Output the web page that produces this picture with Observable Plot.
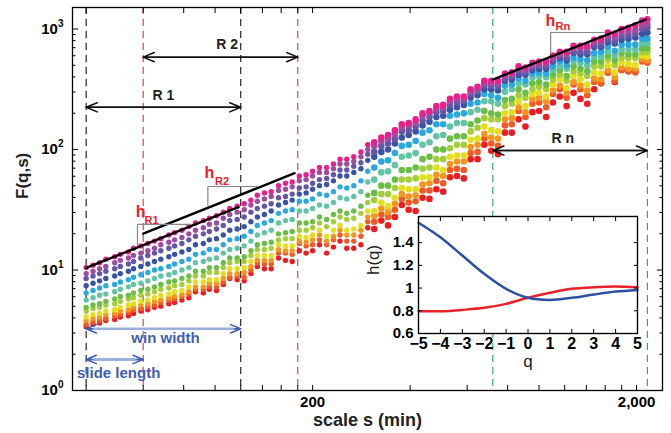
<!DOCTYPE html>
<html><head><meta charset="utf-8">
<script src="https://cdn.jsdelivr.net/npm/d3@7"></script>
<script src="https://cdn.jsdelivr.net/npm/@observablehq/plot@0.6"></script>
<style>
html,body{margin:0;padding:0;background:#fff;}
#wrap{position:relative;width:671px;height:433px;overflow:hidden;background:#fff;}
#main{position:absolute;left:0;top:0;}
#inset{position:absolute;left:360px;top:205px;}
svg text{font-family:"Liberation Sans",Arial,Helvetica,sans-serif;}
</style></head><body>
<div id="wrap"><div id="main"></div><div id="inset"></div></div>
<script>
// ---- scales s (min) at which F(q,s) was read ----
const scales = [40,42,44,46,49,51,54,56,59,62,65,68,72,75,79,83,87,92,96,101,106,111,117,123,129,135,142,149,157,165,173,182,191,200,210,221,232,243,255,268,282,296,310,326,342,359,377,396,416,437,459,482,506,531,558,586,615,646,678,712,747,785,824,865,908,954,1001,1052,1104,1159,1217,1278,1342,1409,1480,1554,1631,1713,1798,1888,1983,2082,2160];

// ---- log10 F(q,s) read for each curve (top: magenta ... bottom: red) ----
const logF_magenta = [1.02,1.04,1.06,1.09,1.11,1.13,1.15,1.18,1.20,1.22,1.24,1.26,1.29,1.31,1.33,1.36,1.39,1.41,1.43,1.45,1.48,1.51,1.53,1.55,1.58,1.62,1.64,1.65,1.70,1.72,1.73,1.78,1.79,1.82,1.85,1.85,1.88,1.92,1.92,1.94,1.98,2.04,2.06,2.10,2.12,2.16,2.21,2.22,2.25,2.30,2.32,2.36,2.37,2.42,2.44,2.44,2.50,2.52,2.57,2.57,2.57,2.63,2.64,2.69,2.68,2.72,2.73,2.73,2.78,2.81,2.81,2.86,2.86,2.86,2.91,2.92,2.97,2.96,3.00,3.01,3.03,3.07,3.08];
const logF_purple = [0.97,0.99,1.01,1.03,1.06,1.08,1.10,1.12,1.14,1.16,1.18,1.21,1.23,1.25,1.27,1.30,1.33,1.35,1.38,1.39,1.43,1.46,1.48,1.50,1.54,1.57,1.59,1.61,1.66,1.67,1.69,1.74,1.75,1.78,1.81,1.81,1.84,1.88,1.88,1.90,1.94,2.00,2.03,2.07,2.09,2.13,2.18,2.20,2.22,2.28,2.30,2.34,2.35,2.40,2.42,2.42,2.48,2.50,2.55,2.55,2.55,2.61,2.62,2.67,2.66,2.70,2.71,2.71,2.76,2.79,2.79,2.84,2.84,2.84,2.89,2.90,2.94,2.93,2.97,2.98,2.99,3.03,3.04];
const logF_violet = [0.93,0.95,0.97,0.99,1.01,1.03,1.05,1.07,1.10,1.12,1.14,1.16,1.18,1.20,1.22,1.25,1.28,1.30,1.32,1.34,1.37,1.41,1.42,1.44,1.48,1.51,1.53,1.55,1.60,1.61,1.63,1.68,1.69,1.72,1.75,1.76,1.79,1.83,1.83,1.86,1.89,1.96,1.98,2.03,2.05,2.09,2.15,2.16,2.19,2.24,2.27,2.31,2.32,2.37,2.39,2.40,2.46,2.48,2.53,2.53,2.53,2.59,2.60,2.65,2.64,2.68,2.69,2.69,2.74,2.77,2.76,2.81,2.81,2.81,2.87,2.87,2.91,2.90,2.94,2.95,2.96,3.00,3.01];
const logF_navy = [0.87,0.89,0.91,0.93,0.95,0.97,0.99,1.01,1.03,1.05,1.07,1.09,1.11,1.13,1.15,1.17,1.21,1.22,1.25,1.26,1.29,1.33,1.34,1.36,1.40,1.44,1.46,1.49,1.54,1.56,1.58,1.63,1.64,1.67,1.70,1.71,1.74,1.78,1.78,1.81,1.84,1.91,1.94,1.98,2.00,2.05,2.10,2.12,2.15,2.20,2.23,2.27,2.28,2.33,2.35,2.37,2.43,2.45,2.50,2.50,2.49,2.57,2.58,2.62,2.62,2.66,2.67,2.67,2.73,2.76,2.74,2.80,2.79,2.79,2.85,2.85,2.89,2.88,2.91,2.92,2.93,2.96,2.97];
const logF_lightBlue = [0.81,0.83,0.85,0.87,0.88,0.90,0.92,0.94,0.96,0.98,1.00,1.01,1.03,1.05,1.07,1.09,1.13,1.14,1.17,1.17,1.21,1.25,1.26,1.28,1.32,1.37,1.39,1.41,1.47,1.49,1.50,1.57,1.57,1.59,1.63,1.62,1.65,1.69,1.68,1.70,1.74,1.82,1.85,1.90,1.91,1.97,2.03,2.04,2.07,2.14,2.16,2.21,2.21,2.28,2.29,2.30,2.38,2.39,2.46,2.45,2.43,2.53,2.54,2.59,2.57,2.63,2.64,2.63,2.69,2.73,2.70,2.76,2.75,2.74,2.80,2.81,2.85,2.82,2.87,2.87,2.87,2.92,2.92];
const logF_teal = [0.75,0.77,0.79,0.80,0.82,0.84,0.86,0.88,0.89,0.91,0.93,0.95,0.96,0.98,1.00,1.02,1.06,1.07,1.09,1.10,1.14,1.17,1.18,1.20,1.24,1.29,1.31,1.33,1.39,1.41,1.42,1.49,1.49,1.51,1.54,1.53,1.56,1.60,1.59,1.61,1.65,1.73,1.75,1.81,1.82,1.87,1.94,1.95,1.97,2.04,2.06,2.11,2.12,2.19,2.22,2.22,2.31,2.33,2.40,2.40,2.38,2.48,2.50,2.55,2.54,2.60,2.61,2.60,2.66,2.69,2.67,2.73,2.72,2.70,2.77,2.77,2.81,2.78,2.83,2.83,2.83,2.88,2.88];
const logF_green = [0.69,0.71,0.72,0.74,0.76,0.78,0.79,0.81,0.83,0.84,0.86,0.88,0.90,0.91,0.93,0.95,0.99,0.99,1.02,1.02,1.06,1.10,1.10,1.11,1.16,1.21,1.22,1.23,1.30,1.31,1.32,1.39,1.39,1.40,1.44,1.42,1.46,1.49,1.47,1.49,1.53,1.62,1.64,1.70,1.70,1.75,1.83,1.83,1.85,1.92,1.94,2.00,2.00,2.09,2.11,2.11,2.21,2.24,2.32,2.30,2.29,2.41,2.42,2.50,2.47,2.55,2.56,2.54,2.62,2.66,2.61,2.69,2.67,2.65,2.73,2.73,2.78,2.74,2.80,2.79,2.79,2.84,2.84];
const logF_lime = [0.66,0.68,0.69,0.71,0.72,0.74,0.76,0.77,0.79,0.80,0.82,0.84,0.85,0.87,0.88,0.91,0.95,0.95,0.98,0.98,1.02,1.06,1.07,1.07,1.12,1.17,1.17,1.18,1.25,1.26,1.26,1.33,1.33,1.35,1.39,1.36,1.40,1.44,1.42,1.43,1.47,1.56,1.58,1.63,1.63,1.68,1.75,1.75,1.76,1.84,1.85,1.92,1.92,2.01,2.04,2.04,2.15,2.18,2.26,2.25,2.25,2.36,2.38,2.45,2.43,2.50,2.52,2.50,2.58,2.62,2.57,2.65,2.63,2.61,2.69,2.69,2.75,2.70,2.76,2.76,2.76,2.81,2.81];
const logF_yellow = [0.61,0.63,0.64,0.66,0.67,0.69,0.71,0.72,0.74,0.75,0.77,0.79,0.80,0.82,0.83,0.86,0.90,0.90,0.92,0.92,0.97,1.01,1.01,1.02,1.07,1.12,1.12,1.12,1.21,1.20,1.20,1.28,1.27,1.29,1.33,1.28,1.33,1.37,1.33,1.34,1.37,1.49,1.49,1.56,1.53,1.60,1.68,1.67,1.67,1.77,1.77,1.85,1.83,1.94,1.95,1.95,2.08,2.09,2.19,2.16,2.15,2.30,2.31,2.40,2.36,2.46,2.47,2.44,2.54,2.58,2.51,2.61,2.58,2.54,2.64,2.63,2.70,2.64,2.72,2.71,2.70,2.78,2.77];
const logF_orange = [0.58,0.60,0.61,0.63,0.64,0.66,0.67,0.69,0.71,0.72,0.74,0.75,0.77,0.78,0.80,0.82,0.86,0.86,0.89,0.89,0.93,0.97,0.97,0.98,1.03,1.08,1.08,1.08,1.17,1.16,1.16,1.24,1.23,1.25,1.29,1.24,1.28,1.33,1.29,1.29,1.33,1.44,1.45,1.51,1.48,1.55,1.63,1.61,1.62,1.71,1.72,1.79,1.78,1.88,1.90,1.90,2.02,2.04,2.13,2.10,2.09,2.25,2.26,2.35,2.31,2.42,2.43,2.40,2.49,2.53,2.47,2.56,2.53,2.49,2.59,2.58,2.66,2.60,2.68,2.67,2.67,2.75,2.74];
const logF_redOrange = [0.55,0.57,0.58,0.60,0.62,0.63,0.65,0.67,0.68,0.70,0.71,0.73,0.75,0.76,0.78,0.80,0.84,0.84,0.86,0.86,0.90,0.94,0.95,0.94,1.00,1.06,1.05,1.05,1.14,1.14,1.13,1.22,1.20,1.21,1.25,1.21,1.25,1.29,1.24,1.24,1.28,1.40,1.40,1.46,1.44,1.50,1.59,1.56,1.57,1.66,1.66,1.74,1.72,1.83,1.84,1.83,1.97,1.98,2.09,2.05,2.03,2.20,2.21,2.32,2.27,2.38,2.39,2.35,2.46,2.50,2.43,2.54,2.50,2.45,2.56,2.55,2.64,2.57,2.66,2.65,2.64,2.73,2.72];
const logF_red = [0.53,0.55,0.56,0.58,0.59,0.61,0.62,0.64,0.66,0.67,0.69,0.70,0.72,0.73,0.75,0.77,0.82,0.81,0.84,0.83,0.88,0.93,0.92,0.91,0.97,1.03,1.01,1.01,1.10,1.08,1.07,1.16,1.14,1.16,1.21,1.14,1.19,1.24,1.18,1.18,1.21,1.35,1.34,1.41,1.37,1.44,1.54,1.50,1.49,1.60,1.59,1.67,1.65,1.77,1.78,1.76,1.92,1.92,2.04,1.99,1.96,2.14,2.14,2.25,2.19,2.31,2.32,2.27,2.39,2.44,2.36,2.47,2.42,2.38,2.50,2.55,2.64,2.56,2.66,2.65,2.65,2.75,2.74];

const seriesNames  = ["red","redOrange","orange","yellow","lime","green","teal","lightBlue","navy","violet","purple","magenta"];
const seriesColors = ["#ec1c24","#f15a24","#f7941d","#e4df1a","#a3cd39","#6abd45","#62c4a2","#2aa9e0","#3a53a4","#6656a6","#9d4f9f","#e8208c"];
const seriesLogs   = [logF_red,logF_redOrange,logF_orange,logF_yellow,logF_lime,logF_green,logF_teal,logF_lightBlue,logF_navy,logF_violet,logF_purple,logF_magenta];
const denseFrom = 300; // beyond this scale the reference dots merge into bands

// ---- x/y ticks of the main panel ----
const xTicks = [40,60,80,100,120,140,160,180,200,400,600,800,1000,1200,1400,1600,1800,2000];
const xTickLabels = {200: "200", 2000: "2,000"};
const yMajor = [1,10,100,1000];
const yMinor = [2,3,4,5,6,7,8,9,20,30,40,50,60,70,80,90,200,300,400,500,600,700,800,900];

// ---- analysis windows (dashed verticals) ----
const windowLinesBlack = [40,120];
const windowLinesRed = [60,180];
const windowLinesGreen = [720,2160];

// ---- fitted slopes (black lines) ----
const fitR1 = [{s:40,F:10.4},{s:118,F:33.2}];
const fitR2 = [{s:60,F:20.0},{s:176,F:63.6}];
const fitRn = [{s:720,F:381},{s:2135,F:1199}];

// ---- slope brackets (grey) ----
const bracketR1 = [{s:57.6,F:16.0},{s:57.6,F:23.9},{s:84,F:23.9}];
const bracketR2 = [{s:95,F:34.3},{s:95,F:49.3},{s:136,F:49.3}];
const bracketRn = [{s:1086,F:626},{s:1086,F:935},{s:1582,F:935}];

// ---- h labels ----
const hLabels = [{s:56.9,F:27.3,sub:"R1",ss:60.6,sF:23.9},{s:92.8,F:57.5,sub:"R2",ss:100,sF:50.3},{s:1047,F:1069,sub:"Rn",ss:1125,sF:972}];

// ---- window arrows ----
const blackArrows = [{a:40,b:120,F:224,label:"R 1",ls:69.3,lF:281},{a:60,b:180,F:584,label:"R 2",ls:109,lF:743},{a:720,b:2160,F:98,label:"R n",ls:1183,lF:123}];
const blueArrows = [{a:40,b:120,F:3.25,label:"win width",ls:70.3,lF:2.70},{a:40,b:60,F:1.81,label:"slide length",ls:50.4,lF:1.38}];

// ---- inset h(q) ----
const qValues = [-5,-4,-3,-2,-1,0,1,2,3,4,5];
const hBlue = [1.575,1.447,1.286,1.125,0.993,0.914,0.896,0.914,0.943,0.969,0.984];
const hRed  = [0.796,0.796,0.808,0.826,0.861,0.914,0.958,0.993,1.007,1.013,1.007];
const hTicks = [0.6,0.8,1,1.2,1.4];

// build rows
const rows = [];
seriesLogs.forEach((arr, i) => arr.forEach((v, k) => {
  if (k < scales.length) rows.push({s: scales[k], F: Math.pow(10, v), series: seriesNames[i]});
}));
const sparseRows = rows.filter(d => d.s < denseFrom);
const denseRows = rows.filter(d => d.s >= denseFrom);

const supMap = {0:"⁰",1:"¹",2:"²",3:"³"};
const font = "Liberation Sans, Arial, Helvetica, sans-serif";

const main = Plot.plot({
  width: 671, height: 433,
  marginLeft: 72, marginRight: 9, marginTop: 7, marginBottom: 43,
  style: {fontFamily: font, background: "transparent", overflow: "visible"},
  x: {type: "log", domain: [36.3, 2405], label: null},
  y: {type: "log", domain: [1, 1508], label: null},
  color: {domain: seriesNames, range: seriesColors},
  marks: [
    Plot.ruleX(windowLinesBlack, {x: d => d, stroke: "#111", strokeWidth: 1.1, strokeDasharray: "7,5"}),
    Plot.ruleX(windowLinesRed, {x: d => d, stroke: "#e8303a", strokeWidth: 1.1, strokeDasharray: "7,5"}),
    Plot.ruleX(windowLinesGreen, {x: d => d, stroke: "#2a9d5c", strokeWidth: 1.1, strokeDasharray: "7,5"}),
    Plot.dot(sparseRows, {x: "s", y: "F", fill: "series", r: 2.7, stroke: null}),
    Plot.dot(denseRows, {x: "s", y: "F", fill: "series", r: 3.3, stroke: null}),
    Plot.line(fitR1, {x: "s", y: "F", stroke: "#000", strokeWidth: 2.4}),
    Plot.line(fitR2, {x: "s", y: "F", stroke: "#000", strokeWidth: 2.4}),
    Plot.line(fitRn, {x: "s", y: "F", stroke: "#000", strokeWidth: 2.4}),
    Plot.line(bracketR1, {x: "s", y: "F", stroke: "#888", strokeWidth: 1.2}),
    Plot.line(bracketR2, {x: "s", y: "F", stroke: "#888", strokeWidth: 1.2}),
    Plot.line(bracketRn, {x: "s", y: "F", stroke: "#888", strokeWidth: 1.2}),
    Plot.text(hLabels, {x: "s", y: "F", text: () => "h", fill: "#ec2028", fontSize: 16, fontWeight: "bold", textAnchor: "start", lineAnchor: "bottom"}),
    Plot.text(hLabels, {x: "ss", y: "sF", text: "sub", fill: "#ec2028", fontSize: 11, fontWeight: "bold", textAnchor: "start", lineAnchor: "bottom"}),
    Plot.arrow(blackArrows, {x1: "a", x2: "b", y1: "F", y2: "F", stroke: "#111", strokeWidth: 1.5, headLength: 12, headAngle: 45}),
    Plot.arrow(blackArrows, {x1: "b", x2: "a", y1: "F", y2: "F", stroke: "#111", strokeWidth: 1.5, headLength: 12, headAngle: 45}),
    Plot.text(blackArrows, {x: "ls", y: "lF", text: "label", fill: "#222", fontSize: 14, fontWeight: "bold"}),
    Plot.arrow(blueArrows, {x1: "a", x2: "b", y1: "F", y2: "F", stroke: "#3f5fae", strokeWidth: 1.5, headLength: 11, headAngle: 45}),
    Plot.arrow(blueArrows, {x1: "b", x2: "a", y1: "F", y2: "F", stroke: "#3f5fae", strokeWidth: 1.5, headLength: 11, headAngle: 45}),
    Plot.arrow(blueArrows, {x1: "a", x2: "b", y1: "F", y2: "F", stroke: "#9aaedb", strokeWidth: 2.4, headLength: 0, insetStart: 8, insetEnd: 8}),
    Plot.text(blueArrows, {x: "ls", y: "lF", text: "label", fill: "#3f5fae", fontSize: 15, fontWeight: "bold"}),
    Plot.axisY(yMinor, {anchor: "left", tickSize: -3.5, tickFormat: () => "", label: null}),
    Plot.axisY(yMinor, {anchor: "right", tickSize: -3.5, tickFormat: () => "", label: null}),
    Plot.axisY(yMajor, {anchor: "left", tickSize: -6, tickPadding: 15, tickFormat: d => "10" + supMap[Math.round(Math.log10(d))], fontSize: 15, fontWeight: "bold", label: null}),
    Plot.axisY(yMajor, {anchor: "right", tickSize: -6, tickFormat: () => "", label: null}),
    Plot.axisX(xTicks, {anchor: "bottom", tickSize: -5, tickPadding: 11, tickFormat: d => xTickLabels[d] || "", fontSize: 15, fontWeight: "bold", label: null}),
    Plot.axisX(xTicks, {anchor: "top", tickSize: -5, tickFormat: () => "", label: null}),
    Plot.frame({stroke: "#000", strokeWidth: 1.3}),
    Plot.text(["scale s (min)"], {frameAnchor: "bottom", dy: 35, fontSize: 18, fontWeight: "bold", fill: "#222"}),
    Plot.text(["F(q,s)"], {frameAnchor: "left", dx: -50, rotate: -90, fontSize: 17, fontWeight: "bold", fill: "#222"})
  ]
});
document.getElementById("main").appendChild(main);

// superscript exponents on y tick labels
const supBack = {"⁰":"0","¹":"1","²":"2","³":"3"};
main.querySelectorAll("text").forEach(t => {
  const m = t.textContent.match(/^10([⁰¹²³])$/);
  if (m) {
    t.textContent = "10";
    const ts = document.createElementNS("http://www.w3.org/2000/svg", "tspan");
    ts.setAttribute("dy", "-7");
    ts.setAttribute("font-size", "10");
    ts.textContent = supBack[m[1]];
    t.appendChild(ts);
  }
});

const insetRows = [];
qValues.forEach((q, i) => { insetRows.push({q, h: hBlue[i], c: "blue"}); insetRows.push({q, h: hRed[i], c: "red"}); });

const inset = Plot.plot({
  width: 290, height: 170,
  marginLeft: 58, marginRight: 13, marginTop: 11, marginBottom: 42,
  style: {fontFamily: font, background: "transparent", overflow: "visible"},
  x: {domain: [-5, 5], label: null},
  y: {domain: [0.6, 1.63], label: null},
  marks: [
    Plot.frame({fill: "white", stroke: "#000", strokeWidth: 1.2}),
    Plot.line(insetRows.filter(d => d.c === "red"), {x: "q", y: "h", stroke: "#e8212b", strokeWidth: 2.5, curve: "catmull-rom"}),
    Plot.line(insetRows.filter(d => d.c === "blue"), {x: "q", y: "h", stroke: "#2f4fa2", strokeWidth: 2.5, curve: "catmull-rom"}),
    Plot.axisX(qValues, {anchor: "bottom", tickSize: -4, tickPadding: 8, fontSize: 16, fontWeight: "bold", label: null}),
    Plot.axisX(qValues, {anchor: "top", tickSize: -4, tickFormat: () => "", label: null}),
    Plot.axisY(hTicks, {anchor: "left", tickSize: -4, tickPadding: 9, tickFormat: d => String(d), fontSize: 15, fontWeight: "bold", label: null}),
    Plot.axisY(hTicks, {anchor: "right", tickSize: -4, tickFormat: () => "", label: null}),
    Plot.frame({stroke: "#000", strokeWidth: 1.2}),
    Plot.text(["q"], {frameAnchor: "bottom", dy: 33, fontSize: 17, fill: "#222"}),
    Plot.text(["h(q)"], {frameAnchor: "left", dx: -45, rotate: -90, fontSize: 17, fill: "#222"})
  ]
});
document.getElementById("inset").appendChild(inset);
</script>
</body></html>
